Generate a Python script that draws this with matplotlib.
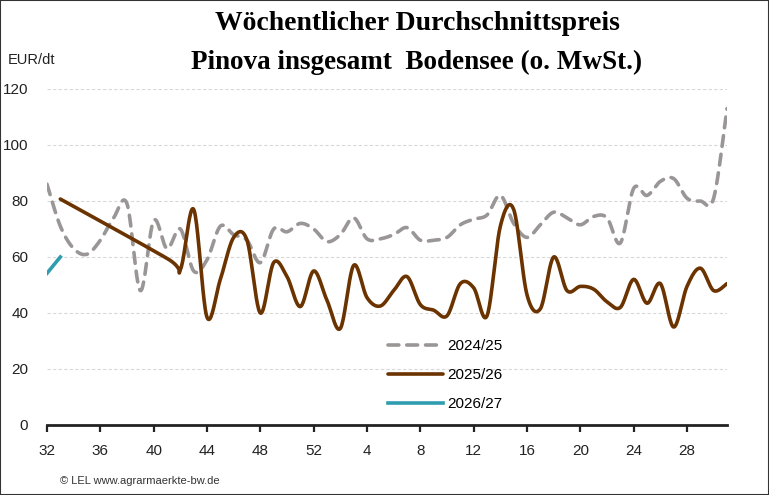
import numpy as np
import matplotlib
matplotlib.use('Agg')
import matplotlib.pyplot as plt
from matplotlib.patches import Rectangle

nan = np.nan

# Kalenderwochen der Saison (KW 32 bis KW 31)
weeks = list(range(32, 53)) + list(range(1, 32))
tick_weeks = [32, 36, 40, 44, 48, 52, 4, 8, 12, 16, 20, 24, 28]

price_2024_25 = [86, 71, 63, 61, 66, 74, 79, 48, 73, 63,
                 70, 55, 59, 71, 68, 66, 58, 70, 69, 72,
                 70, 65.5, 68, 74, 66.5, 66.5, 68, 70.5, 66, 66,
                 67, 71.5, 73.5, 75, 82, 72, 67, 71.5, 76, 74,
                 71.5, 74.5, 74, 65, 84.5, 82, 87, 88, 81, 80,
                 81, 113]

price_2025_26 = [nan, 80.7, nan, nan, nan, nan, nan, nan, nan, 59.5,
                 55.5, 77, 38.5, 52, 67, 66, 40, 58, 53, 42.3,
                 55, 44.5, 34.5, 57, 45.5, 42.5, 48, 53, 43, 41,
                 39, 50.5, 49, 39, 71, 77, 46.5, 41.5, 60, 48,
                 49.5, 48.5, 44, 42, 52, 43.5, 50.5, 35, 49.5, 56,
                 48, 50.5]

price_2026_27 = [54.2, 60.0]

seasons = ['2024/25', '2025/26', '2026/27']
colors = ['#9a9696', '#6b3300', '#2f9db0']

SANS = ['Liberation Sans', 'DejaVu Sans']
SERIF = ['Liberation Serif', 'DejaVu Serif']


def smooth(x, y, n=24):
    # geglaettete Linie wie in Excel (Bezier, Tension 1/6)
    x = np.asarray(x, float)
    y = np.asarray(y, float)
    ok = ~np.isnan(y)
    x, y = x[ok], y[ok]
    if len(x) < 3:
        return x, y
    pts = np.column_stack([x, y])
    pts = np.vstack([pts[0], pts, pts[-1]])
    t = np.linspace(0, 1, n)[:, None]
    out = []
    for k in range(1, len(pts) - 2):
        p0, p1, p2, p3 = pts[k - 1], pts[k], pts[k + 1], pts[k + 2]
        c1 = p1 + (p2 - p0) / 6
        c2 = p2 - (p3 - p1) / 6
        seg = ((1 - t) ** 3) * p1 + 3 * ((1 - t) ** 2) * t * c1 \
            + 3 * (1 - t) * t ** 2 * c2 + t ** 3 * p2
        out.append(seg if k == 1 else seg[1:])
    out = np.vstack(out)
    return out[:, 0], out[:, 1]


fig = plt.figure(figsize=(7.69, 4.95), dpi=100)
ax = fig.add_axes([47 / 769, 1 - 425 / 495, 680 / 769, 336 / 495])

idx = np.arange(len(weeks))

x, y = smooth(idx, price_2024_25)
ax.plot(x, y, color=colors[0], lw=2.6, dashes=(3.0, 2.2),
        dash_capstyle='round', label=seasons[0], zorder=3)
x, y = smooth(idx, price_2025_26)
ax.plot(x, y, color=colors[1], lw=2.6, solid_capstyle='round',
        label=seasons[1], zorder=4)
x, y = smooth(idx[:len(price_2026_27)], price_2026_27)
ax.plot(x, y, color=colors[2], lw=2.6, label=seasons[2], zorder=5)

ax.set_xlim(0, len(weeks) - 1)
ax.set_ylim(0, 120)
ax.set_yticks(range(0, 121, 20))
ax.set_xticks([weeks.index(w) for w in tick_weeks])
ax.set_xticklabels([str(w) for w in tick_weeks])

for v in range(20, 121, 20):
    ax.axhline(v, color='#d8d8d8', lw=0.8, ls=(0, (3, 2)), zorder=1)

for s in ['top', 'right', 'left']:
    ax.spines[s].set_visible(False)
ax.spines['bottom'].set_linewidth(2)
ax.spines['bottom'].set_color('#222222')
ax.tick_params(axis='y', length=0, pad=13.5, labelsize=11, labelcolor='#222222')
ax.tick_params(axis='x', length=5, width=1.6, color='#222222', pad=8.5,
               labelsize=11, labelcolor='#222222')
for lab in ax.get_xticklabels() + ax.get_yticklabels():
    lab.set_family(SANS)

fig.text(8 / 769, 1 - 60 / 495, 'EUR/dt', family=SANS, fontsize=10.5,
         color='#222222', va='center', ha='left')

fig.text(417 / 769, 1 - 24 / 495, 'Wöchentlicher Durchschnittspreis',
         family=SERIF, fontweight='bold', fontsize=20, ha='center', va='center')
fig.text(417 / 769, 1 - 62 / 495, 'Pinova insgesamt  Bodensee (o. MwSt.)',
         family=SERIF, fontweight='bold', fontsize=19.5, ha='center', va='center')

fig.text(60 / 769, 1 - 481 / 495, '© LEL www.agrarmaerkte-bw.de', family=SANS,
         fontsize=8, color='#333333', va='center', ha='left')

fig.legend(loc='upper left', bbox_to_anchor=(388 / 769, 1 - 339 / 495),
           frameon=False, handlelength=3.6, handletextpad=0.3,
           labelspacing=0.98, borderpad=0, borderaxespad=0,
           prop={'family': SANS, 'size': 11})

fig.patches.append(Rectangle((0, 0), 1, 1, transform=fig.transFigure, fill=False,
                             edgecolor='#333333', lw=1.5))

fig.savefig('out.png', dpi=100)
